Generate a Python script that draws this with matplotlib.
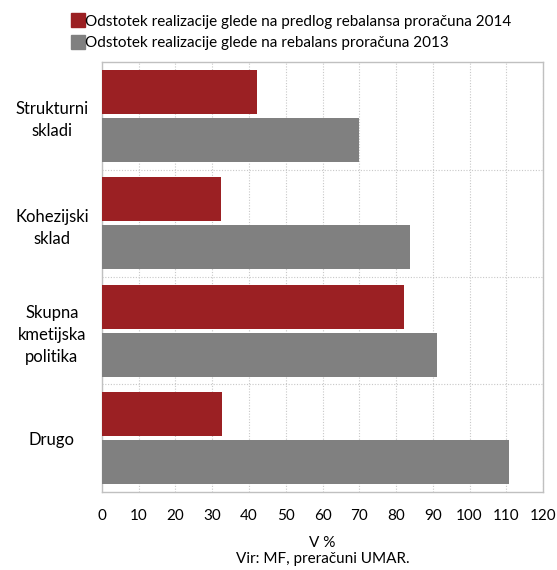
import numpy as np
import matplotlib
matplotlib.use("Agg")
from matplotlib import pyplot as plt
from matplotlib.lines import Line2D

plt.rcParams['font.family'] = ['Lato', 'DejaVu Sans']

categories = ['Strukturni\nskladi', 'Kohezijski\nsklad', 'Skupna\nkmetijska\npolitika', 'Drugo']
share_2014 = [42.2, 32.4, 82.2, 32.7]
share_2013 = [69.8, 83.8, 91.2, 110.8]
series_names = ['Odstotek realizacije glede na predlog rebalansa proračuna 2014',
                'Odstotek realizacije glede na rebalans proračuna 2013']
colors = ['#9b2023', '#808080']

fig = plt.figure(figsize=(5.57, 5.7), dpi=100)
ax = fig.add_axes([0.183, 0.137, 0.792, 0.754])

pos = np.arange(len(categories))
h = 0.41
gap = 0.035
ax.barh(pos - (h + gap) / 2, share_2014, height=h, color=colors[0], zorder=3)
ax.barh(pos + (h + gap) / 2, share_2013, height=h, color=colors[1], zorder=3)

ax.set_ylim(len(categories) - 0.5, -0.5)
ax.set_xlim(0, 120)
ax.set_xticks(np.arange(0, 121, 10))
ax.set_yticks(pos)
ax.set_yticklabels(categories, ha='center', linespacing=1.45)
ax.tick_params(axis='y', length=0, pad=36, labelsize=12)
ax.tick_params(axis='x', length=0, pad=12, labelsize=11)

# dotted grid: vertical at ticks, horizontal between categories
ax.grid(axis='x', color='#c8c8c8', linestyle=(0, (1, 1.5)), linewidth=0.8, zorder=0)
for b in pos[:-1] + 0.5:
    ax.axhline(b, color='#c8c8c8', linestyle=(0, (1, 1.5)), linewidth=0.8, zorder=0)

for s in ax.spines.values():
    s.set_color('#c0c0c0')
    s.set_linewidth(1.0)

ax.set_xlabel('V %\nVir: MF, preračuni UMAR.', fontsize=11, labelpad=10, linespacing=1.1)

handles = [Line2D([], [], marker='s', linestyle='none', markersize=10,
                  markerfacecolor=c, markeredgecolor=c) for c in colors]
fig.legend(handles, series_names, loc='upper left', bbox_to_anchor=(0.118, 0.985),
           frameon=False, fontsize=11, handletextpad=0.05, handlelength=0.8,
           labelspacing=0.5, borderaxespad=0)

fig.savefig('out.png', dpi=100)
